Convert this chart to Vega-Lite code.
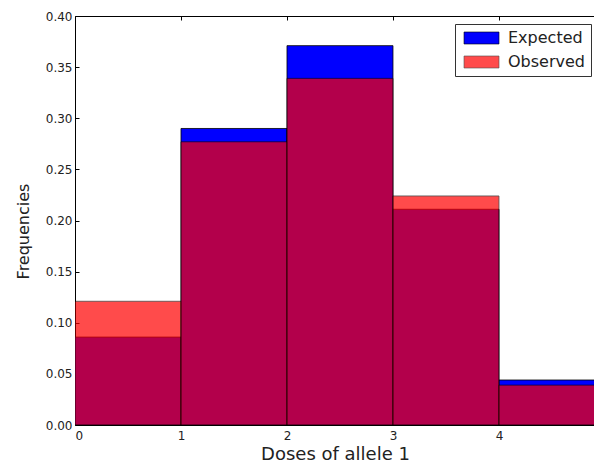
{
  "$schema": "https://vega.github.io/schema/vega-lite/v6.json",
  "autosize": "none",
  "width": 520,
  "height": 409,
  "padding": {"left": 75, "top": 16, "right": 0, "bottom": 41},
  "config": {
    "view": {"stroke": "#000", "strokeWidth": 1},
    "font": "DejaVu Sans",
    "axis": {"grid": false, "domain": false, "labelFont": "DejaVu Sans", "titleFont": "DejaVu Sans", "labelColor": "#222", "titleColor": "#222", "tickColor": "#000", "titleFontWeight": "normal"}
  },
  "data": {"values": [
    {"dose": 0, "dose_end": 1, "group": "Expected", "freq": 0.086},
    {"dose": 1, "dose_end": 2, "group": "Expected", "freq": 0.290},
    {"dose": 2, "dose_end": 3, "group": "Expected", "freq": 0.371},
    {"dose": 3, "dose_end": 4, "group": "Expected", "freq": 0.211},
    {"dose": 4, "dose_end": 5, "group": "Expected", "freq": 0.044},
    {"dose": 0, "dose_end": 1, "group": "Observed", "freq": 0.121},
    {"dose": 1, "dose_end": 2, "group": "Observed", "freq": 0.277},
    {"dose": 2, "dose_end": 3, "group": "Observed", "freq": 0.339},
    {"dose": 3, "dose_end": 4, "group": "Observed", "freq": 0.224},
    {"dose": 4, "dose_end": 5, "group": "Observed", "freq": 0.039}
  ]},
  "resolve": {"axis": {"x": "independent"}},
  "layer": [
    {
      "mark": {"type": "bar", "clip": true, "stroke": "#000", "strokeWidth": 0.8},
      "encoding": {
        "x": {"field": "dose", "type": "quantitative", "scale": {"domain": [0, 4.906], "nice": false, "zero": false},
          "axis": {"values": [0, 1, 2, 3, 4], "format": "d", "tickSize": -4, "labelFontSize": 12, "labelPadding": 9, "title": "Doses of allele 1", "titleFontSize": 18, "titlePadding": 4}},
        "x2": {"field": "dose_end"},
        "y": {"field": "freq", "type": "quantitative", "stack": null, "scale": {"domain": [0, 0.4], "nice": false},
          "axis": {"values": [0, 0.05, 0.1, 0.15, 0.2, 0.25, 0.3, 0.35, 0.4], "format": ".2f", "tickSize": -4, "labelFontSize": 12, "labelPadding": 7, "title": "Frequencies", "titleFontSize": 16, "titlePadding": 14, "titleY": 215}},
        "y2": {"datum": 0},
        "color": {"field": "group", "type": "nominal", "scale": {"domain": ["Expected", "Observed"], "range": ["#0000ff", "#ff0000"]},
          "legend": {"title": null, "orient": "none", "legendX": 380, "legendY": 8, "fillColor": "#fff", "strokeColor": "#333", "padding": 6, "labelFontSize": 16, "labelFont": "DejaVu Sans", "labelColor": "#222", "symbolType": "M-0.83,-1H5V1H-0.83Z", "symbolSize": 144, "symbolStrokeColor": "#000", "symbolStrokeWidth": 0.6, "rowPadding": 8, "labelOffset": 31}},
        "opacity": {"field": "group", "type": "nominal", "scale": {"domain": ["Expected", "Observed"], "range": [1, 0.7]}, "legend": null}
      }
    },
    {
      "mark": {"type": "rule", "opacity": 0},
      "encoding": {
        "x": {"field": "dose", "type": "quantitative", "axis": {"orient": "top", "values": [0, 1, 2, 3, 4], "labels": false, "title": null, "tickSize": -4}}
      }
    }
  ]
}
